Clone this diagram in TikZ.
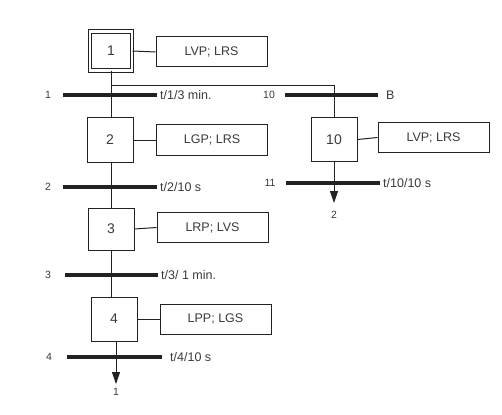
\documentclass[tikz,border=0pt]{standalone}
\usepackage{fontspec}
\setmainfont{Liberation Sans}
\usepackage{tikz}
\usetikzlibrary{positioning, arrows.meta}

\definecolor{inkline}{HTML}{222222}
\definecolor{inktext}{HTML}{3A3A3A}

\tikzset{
  stepbox/.style={draw=inkline, line width=1pt, minimum width=46pt, minimum height=44pt,
    inner sep=0pt, text=inktext, font=\fontsize{14}{16}\selectfont},
  initbox/.style={stepbox, double, double distance=2.5pt, minimum width=42pt, minimum height=39pt},
  actbox/.style={draw=inkline, line width=1pt, minimum width=111pt, minimum height=30pt,
    inner sep=0pt, text=inktext, font=\fontsize{12.5}{14}\selectfont},
  link/.style={draw=inkline, line width=1pt},
  bar/.style={draw=inkline, line width=4pt},
  tlabel/.style={text=inktext, font=\fontsize{12.5}{14}\selectfont, inner sep=0pt},
  nlabel/.style={text=inktext, font=\fontsize{10.5}{12}\selectfont, inner sep=0pt},
  jump/.style={link, -{Triangle[width=8pt,length=12pt]}}
}

\begin{document}
\begin{tikzpicture}[x=1pt, y=-1pt]
    \useasboundingbox (0,0) rectangle (502,414);
    % steps and actions
    \node[initbox] (S1) at (111,51) {1};
    \node[actbox] (A1) at (211.5,52) {LVP; LRS};
    \node[stepbox] (S2) at (110,140) {2};
    \node[actbox] (A2) at (212,140) {LGP; LRS};
    \node[stepbox, minimum height=42pt] (S3) at (111,229) {3};
    \node[actbox] (A3) at (212.5,227.5) {LRP; LVS};
    \node[stepbox] (S4) at (114,319) {4};
    \node[actbox] (A4) at (215.5,319) {LPP; LGS};
    \node[stepbox, minimum height=43pt] (S10) at (334,139.5) {10};
    \node[actbox] (A10) at (433.5,137.5) {LVP; LRS};
    \foreach \s in {1,2,3,4,10}
        \draw[link] (S\s.east) -- (A\s.west);
    % links between steps
    \coordinate (D1) at (111,86);
    \draw[link] (S1.south) -- (S1.south |- S2.north);
    \draw[link] (D1) -| (S10.north);
    \draw[link] (S2.south -| S3.north) -- (S3.north);
    \draw[link] (S3.south) -- (S3.south |- S4.north);
    \coordinate (E4) at (116,384);
    \coordinate (E10) at (334,203);
    \draw[jump] (S4.south -| E4) -- (E4);
    \draw[jump] (S10.south -| E10) -- (E10);
    \node[nlabel, below=4pt of E4] (G4) {1};
    \node[nlabel, below=8pt of E10] (G10) {2};
    % transitions
    \coordinate (T1l) at (63,95);   \coordinate (T1r) at (157,95);
    \coordinate (T2l) at (63,187);  \coordinate (T2r) at (157,187);
    \coordinate (T3l) at (65,275);  \coordinate (T3r) at (158,275);
    \coordinate (T4l) at (67,357);  \coordinate (T4r) at (162,357);
    \coordinate (T10l) at (285,95); \coordinate (T10r) at (378,95);
    \coordinate (T11l) at (286,183); \coordinate (T11r) at (380,183);
    \foreach \t in {1,2,3,4,10,11}
        \draw[bar] (T\t l) -- (T\t r);
    \node[tlabel, anchor=west] (C1) at (160,95) {t/1/3 min.};
    \node[tlabel, anchor=west] (C2) at (160,187) {t/2/10 s};
    \node[tlabel, anchor=west] (C3) at (161,275) {t/3/ 1 min.};
    \node[tlabel, anchor=west] (C4) at (170,357) {t/4/10 s};
    \node[tlabel, anchor=west] (C10) at (386,95) {B};
    \node[tlabel, anchor=west] (C11) at (383,183) {t/10/10 s};
    \node[nlabel] (N1) at (48,95) {1};
    \node[nlabel] (N2) at (48,187) {2};
    \node[nlabel] (N3) at (48,275) {3};
    \node[nlabel] (N4) at (49,357) {4};
    \node[nlabel] (N10) at (269,95) {10};
    \node[nlabel] (N11) at (270,183) {11};
\end{tikzpicture}
\end{document}
